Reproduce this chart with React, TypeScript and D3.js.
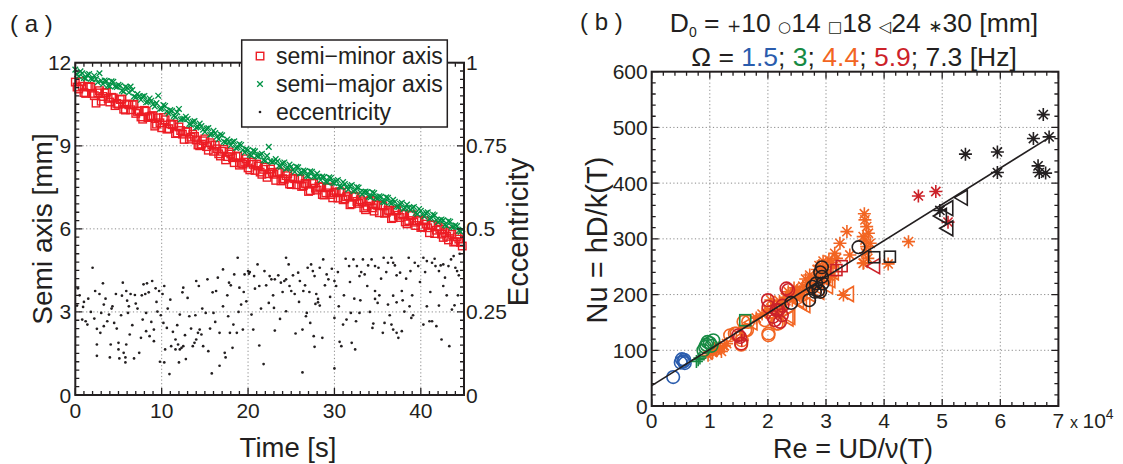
import React from "react";
import * as d3 from "d3";

const FONT = "'Liberation Sans', Arial, sans-serif";

// ---------------- Panel (a) data ----------------
const timeS = [0,0.4,0.8,1.2,1.6,2,2.4,2.8,3.2,3.6,4,4.4,4.8,5.2,5.6,6,6.4,6.8,7.2,7.6,8,8.4,8.8,9.2,9.6,10,10.4,10.8,11.2,11.6,12,12.4,12.8,13.2,13.6,14,14.4,14.8,15.2,15.6,16,16.4,16.8,17.2,17.6,18,18.4,18.8,19.2,19.6,20,20.4,20.8,21.2,21.6,22,22.4,22.8,23.2,23.6,24,24.4,24.8,25.2,25.6,26,26.4,26.8,27.2,27.6,28,28.4,28.8,29.2,29.6,30,30.4,30.8,31.2,31.6,32,32.4,32.8,33.2,33.6,34,34.4,34.8,35.2,35.6,36,36.4,36.8,37.2,37.6,38,38.4,38.8,39.2,39.6,40,40.4,40.8,41.2,41.6,42,42.4,42.8,43.2,43.6,44,44.4,44.8];

const semiMinorMm = [
  11.30,11.05,11.15,10.89,11.14,10.89,10.54,10.99,10.78,10.93,10.58,10.73,10.53,
  10.67,10.32,10.51,10.30,10.50,10.24,10.04,10.28,10.02,10.07,9.71,10.01,9.65,
  9.94,9.62,9.76,9.44,9.68,9.42,9.50,9.24,9.42,9.21,9.00,9.18,8.97,
  9.11,8.80,8.89,8.63,8.87,8.61,8.70,8.39,8.63,8.37,8.41,8.20,
  8.41,8.11,8.27,7.97,8.23,7.99,8.04,7.75,8.05,7.81,7.92,7.62,7.83,
  7.59,7.80,7.56,7.62,7.38,7.64,7.40,7.51,7.22,7.48,7.24,7.30,
  7.11,7.32,7.08,7.19,6.90,7.16,6.92,6.98,6.69,7.00,6.76,6.87,6.58,
  6.83,6.59,6.65,6.40,6.66,6.41,6.52,6.18,6.48,6.24,6.29,6.05,
  6.29,6.04,6.13,5.83,6.07,5.81,5.86,5.60,5.80,5.54,5.63,5.38
];

const semiMajorMm = [
  11.75,11.51,11.62,11.43,11.59,11.40,11.41,11.62,11.23,11.34,11.15,11.31,11.12,
  11.17,10.96,11.10,11.14,10.78,10.87,10.66,10.80,10.59,10.63,10.42,10.81,10.35,
  10.44,10.17,10.26,10.04,10.33,9.97,10.05,9.79,9.87,9.66,9.80,9.58,9.62,
  9.40,9.54,9.33,9.41,9.15,9.23,9.02,9.16,8.94,9.03,8.76,8.85,
  8.65,8.80,8.61,8.71,8.46,8.96,8.41,8.52,8.27,8.37,8.17,8.32,8.13,
  8.24,8.00,8.11,7.92,8.08,7.89,8.00,7.76,7.87,7.68,7.84,7.65,
  7.76,7.51,7.62,7.42,7.58,7.39,7.49,7.25,7.35,7.16,7.32,7.12,7.18,
  6.98,7.14,6.95,7.05,6.81,6.91,6.72,6.88,6.68,6.79,6.54,6.65,
  6.45,6.60,6.39,6.49,6.24,6.34,6.14,6.28,6.08,6.13,5.93,5.98
];

// interleaved samples (t = 0.2, 0.6, ... 44.6)
const timeMidS = [0.2,0.6,1,1.4,1.8,2.2,2.6,3,3.4,3.8,4.2,4.6,5,5.4,5.8,6.2,6.6,7,7.4,7.8,8.2,8.6,9,9.4,9.8,10.2,10.6,11,11.4,11.8,12.2,12.6,13,13.4,13.8,14.2,14.6,15,15.4,15.8,16.2,16.6,17,17.4,17.8,18.2,18.6,19,19.4,19.8,20.2,20.6,21,21.4,21.8,22.2,22.6,23,23.4,23.8,24.2,24.6,25,25.4,25.8,26.2,26.6,27,27.4,27.8,28.2,28.6,29,29.4,29.8,30.2,30.6,31,31.4,31.8,32.2,32.6,33,33.4,33.8,34.2,34.6,35,35.4,35.8,36.2,36.6,37,37.4,37.8,38.2,38.6,39,39.4,39.8,40.2,40.6,41,41.4,41.8,42.2,42.6,43,43.4,43.8,44.2,44.6];

const semiMinorMidMm = [
  11.12,11.32,10.92,11.12,11.12,10.81,10.91,10.61,10.91,10.71,10.75,10.45,
  10.50,10.69,10.29,10.48,10.48,10.17,10.26,9.96,10.25,10.05,10.09,9.78,9.83,
  10.02,9.60,9.79,9.78,9.46,9.55,9.23,9.52,9.31,9.34,9.03,9.06,9.25,
  8.84,9.03,9.02,8.71,8.80,8.49,8.78,8.57,8.61,8.30,8.34,8.53,
  8.13,8.33,8.34,8.05,8.15,7.86,8.16,7.97,8.03,7.73,7.79,7.99,7.60,
  7.81,7.82,7.53,7.64,7.35,7.66,7.47,7.53,7.24,7.30,7.51,7.12,
  7.33,7.34,7.05,7.16,6.87,7.18,6.99,7.05,6.76,6.82,7.03,6.64,6.85,
  6.86,6.56,6.67,6.37,6.68,6.49,6.54,6.25,6.30,6.51,6.12,6.32,
  6.07,6.17,5.86,6.15,5.95,5.99,5.69,5.73,5.92,5.52,5.71,5.51
];

const semiMajorMidMm = [
  11.58,11.69,11.45,11.56,11.42,11.53,11.29,11.35,11.36,11.17,11.33,11.14,
  11.20,10.99,11.13,10.92,11.01,10.75,10.79,10.78,10.57,10.71,10.50,10.54,10.33,
  10.47,10.25,10.29,10.08,10.21,9.95,9.98,9.97,9.76,9.89,9.68,9.71,9.50,
  9.64,9.42,9.46,9.24,9.38,9.12,9.15,9.14,8.92,9.06,8.85,8.88,
  8.68,8.83,8.63,8.68,8.48,8.64,8.44,8.44,8.44,8.24,8.40,8.20,8.25,
  8.06,8.22,8.03,8.09,7.90,8.06,7.87,7.88,7.89,7.70,7.86,7.67,
  7.73,7.53,7.69,7.50,7.55,7.36,7.51,7.32,7.33,7.33,7.14,7.29,7.10,
  7.16,6.96,7.12,6.92,6.98,6.79,6.94,6.75,6.75,6.76,6.57,6.72,
  6.52,6.57,6.37,6.52,6.32,6.31,6.31,6.11,6.26,6.06,6.10,5.90
];

// [time s, eccentricity]
const eccentricity: [number, number][] = [
  [2.0,0.383],[0.3,0.321],[3.2,0.336],[2.3,0.313],[2.8,0.304],[4.7,0.304],[5.4,0.299],[5.9,0.313],[5.5,0.338],[6.4,0.304],
  [6.9,0.301],[6.0,0.284],[7.9,0.333],[8.3,0.336],[8.1,0.304],[8.5,0.309],[8.9,0.343],[9.3,0.321],[9.7,0.313],[10.3,0.328],
  [10.1,0.304],[12.5,0.323],[12.4,0.309],[14.0,0.343],[14.3,0.328],[15.3,0.348],[15.9,0.309],[16.3,0.313],[17.1,0.378],[16.5,0.353],
  [17.8,0.338],[18.4,0.363],[18.8,0.413],[19.0,0.323],[19.6,0.363],[20.0,0.373],[20.2,0.370],[20.1,0.365],[20.7,0.358],[21.1,0.393],
  [21.3,0.328],[21.9,0.373],[22.5,0.358],[22.7,0.348],[23.1,0.348],[23.8,0.338],[24.2,0.343],[24.4,0.413],[24.7,0.393],[24.4,0.348],
  [24.8,0.328],[25.0,0.313],[25.4,0.304],[25.8,0.368],[26.0,0.343],[26.4,0.313],[26.9,0.383],[27.3,0.393],[27.5,0.373],[27.7,0.358],
  [27.9,0.304],[28.1,0.289],[28.3,0.383],[28.7,0.408],[29.1,0.363],[29.3,0.348],[30.0,0.343],[30.2,0.328],[31.3,0.410],[31.7,0.388],
  [32.2,0.408],[32.6,0.388],[32.9,0.358],[33.3,0.408],[33.5,0.363],[33.8,0.328],[34.3,0.408],[34.7,0.388],[35.1,0.383],[35.7,0.413],
  [36.2,0.398],[36.6,0.413],[36.8,0.398],[37.2,0.360],[37.6,0.368],[37.8,0.313],[38.6,0.413],[38.8,0.373],[39.3,0.398],[39.7,0.388],
  [40.3,0.413],[40.7,0.403],[41.3,0.398],[41.7,0.388],[42.1,0.373],[42.6,0.393],[42.8,0.353],[42.6,0.328],[43.2,0.388],[43.5,0.408],
  [43.8,0.418],[44.0,0.383],[44.2,0.373],[34.7,0.313],[36.8,0.299],[37.2,0.279],[37.9,0.285],[34.7,0.289],[35.2,0.300],[28.1,0.279],
  [28.3,0.269],[27.8,0.274],[42.1,0.269],
  [0.2,0.269],[0.9,0.265],[1.2,0.222],[1.4,0.212],[0.8,0.227],[2.5,0.199],[2.5,0.152],[2.5,0.118],[2.9,0.187],[3.0,0.247],
  [3.3,0.207],[3.3,0.272],[3.7,0.222],[3.9,0.242],[4.1,0.152],[4.0,0.113],[4.5,0.217],[4.3,0.267],[5.0,0.157],[5.0,0.137],
  [5.1,0.110],[5.6,0.127],[5.8,0.113],[5.8,0.098],[5.9,0.152],[6.1,0.247],[6.3,0.182],[6.2,0.267],[6.8,0.110],[7.4,0.127],
  [7.6,0.172],[8.2,0.192],[7.8,0.227],[8.2,0.247],[8.6,0.177],[9.1,0.162],[9.1,0.197],[9.5,0.251],[9.8,0.100],[10.2,0.217],
  [10.3,0.098],[10.4,0.137],[10.6,0.202],[10.9,0.063],[11.1,0.147],[11.6,0.137],[11.6,0.167],[11.9,0.152],[12.0,0.098],[12.1,0.242],
  [12.1,0.137],[12.3,0.142],[12.5,0.147],[12.8,0.108],[13.2,0.237],[13.6,0.147],[13.8,0.157],[14.0,0.167],[14.2,0.187],[14.4,0.197],
  [14.6,0.182],[14.8,0.147],[15.1,0.247],[15.4,0.132],[15.8,0.065],[16.0,0.247],[16.7,0.187],[16.7,0.088],[17.1,0.267],[17.3,0.127],
  [17.4,0.113],[17.7,0.237],[17.9,0.187],[18.3,0.212],[18.2,0.142],[18.7,0.187],[19.4,0.197],[19.2,0.272],[20.4,0.242],[20.6,0.197],
  [21.3,0.149],[21.8,0.093],[22.4,0.277],[23.1,0.194],[23.7,0.229],[24.4,0.252],[25.5,0.185],[26.3,0.197],[26.3,0.068],[26.8,0.247],
  [27.2,0.217],[27.6,0.177],[27.7,0.145],[28.6,0.172],[26.7,0.237],[30.0,0.080],[30.0,0.232],[30.6,0.160],[30.8,0.147],[31.0,0.212],
  [31.4,0.227],[32.0,0.157],[32.4,0.137],[32.9,0.247],[32.5,0.222],[34.4,0.202],[34.5,0.215],[35.6,0.187],[35.8,0.217],[36.6,0.212],
  [36.8,0.197],[37.2,0.187],[37.4,0.172],[37.8,0.192],[38.1,0.251],[38.9,0.232],[40.3,0.212],[41.0,0.222],[41.3,0.222],[41.8,0.207],
  [42.4,0.167],[43.3,0.147],[43.6,0.257],[35.0,0.277],[36.2,0.272],[40.7,0.267],[30.5,0.267],[31.9,0.247],[38.7,0.267],[23.0,0.262],
  [19.8,0.282],[11.0,0.287],[13.0,0.292],[1.5,0.290],[7.0,0.275],[44.5,0.425],[44.3,0.300],[39.0,0.300],[29.5,0.295],[33.0,0.285],
  [0.5,0.30],[1.0,0.28],[1.8,0.25],[2.2,0.23],[3.5,0.29],[4.2,0.26],[4.8,0.20],[5.3,0.24],[6.6,0.21],[7.2,0.26],
  [7.7,0.30],[8.8,0.22],[9.4,0.28],[9.9,0.24],[10.7,0.26],[11.3,0.19],[11.8,0.21],[12.7,0.18],[13.4,0.20],[13.9,0.24],
  [14.7,0.26],[15.6,0.20],[16.2,0.22],[17.6,0.30],[18.0,0.33],[18.9,0.25],[19.5,0.31],[20.8,0.32],[21.5,0.26],[22.1,0.33],
  [22.9,0.30],[23.5,0.36],[24.0,0.31],[25.2,0.36],[25.9,0.28],[26.6,0.33],[27.1,0.31],[28.9,0.33],[29.7,0.38],[30.4,0.37],
  [31.1,0.30],[31.8,0.34],[32.3,0.29],[33.1,0.37],[33.9,0.39],[34.1,0.25],[35.4,0.35],[36.0,0.37],[36.4,0.24],[37.0,0.39],
  [38.3,0.35],[39.1,0.24],[39.9,0.34],[40.5,0.37],[41.1,0.31],[41.6,0.41],[42.3,0.39],[43.0,0.30],[43.9,0.27],[44.4,0.36]
];

const timeTicks = [0, 10, 20, 30, 40];
const semiTicks = [0, 3, 6, 9, 12];
const eccTicks = [0, 0.25, 0.5, 0.75, 1];
const eccTickLabels = ["0", "0.25", "0.5", "0.75", "1"];

// ---------------- Panel (b) data ----------------
// [Re / 1e4, Nu]
type Pt = [number, number];
const blueCircles: Pt[] = [[0.37,52],[0.52,84],[0.55,80],[0.57,77],[0.50,78],[0.56,83]];

const greenPluses: Pt[] = [[0.77,80],[0.83,86],[0.80,83]];
const greenCircles: Pt[] = [[0.89,100],[0.92,106],[0.96,115],[1.00,113],[1.06,118],[0.94,110],[1.03,108]];
const greenSquares: Pt[] = [[1.61,154]];

const orangePluses: Pt[] = [[1.02,95],[1.10,100],[1.15,104]];
const orangeCircles: Pt[] = [[1.35,127],[1.43,130],[1.46,130],[1.55,118],[1.58,151],[1.61,136],[1.64,136],[1.66,151],[2.01,127],[2.01,130],[1.95,154],[2.15,148],[2.18,148],[2.04,169],[2.18,178],[1.54,110]];
const orangeTriangles: Pt[] = [[2.32,157],[2.61,181],[2.35,160],[3.36,201],[2.50,190],[2.80,215],[2.95,230],[3.04,226],[2.20,185],[1.70,150],[2.70,200],[2.85,205],[3.00,215],[3.10,240],[2.55,185]];
const orangeAsterisks: Pt[] = [[0.97,91],[1.05,96],[1.12,100],[1.18,104],[1.25,108],[1.29,112],[1.08,103],[1.20,98],
  [1.80,158],[1.90,165],[2.00,172],[2.10,180],[2.20,188],[2.30,195],[2.40,200],[2.50,207],[2.60,215],[2.70,222],[2.80,230],
  [2.90,238],[3.00,248],[3.10,258],[3.15,274],[3.24,292],[3.36,313],[3.41,271],[2.45,212],[2.55,200],[2.65,228],[2.75,210],
  [2.85,245],[2.95,225],[3.05,262],[2.25,175],[2.35,205],[2.05,190],
  [2.15,170],[2.28,182],[2.42,190],[2.58,198],[2.72,235],[2.88,252],[3.02,240],[3.08,232],[3.12,250],[2.62,208],[2.48,195],[2.95,260],[3.18,265],
  [3.67,334],[3.70,322],[3.73,310],[3.67,298],[3.76,292],[3.64,304],[3.70,286],[3.64,256],[3.68,275],[3.72,265],[3.66,345],
  [4.42,295],[4.07,255],[3.65,257],[3.30,199]];

const redPluses: Pt[] = [[1.55,118]];
const redCircles: Pt[] = [[1.52,124],[1.54,112],[1.49,127],[2.00,190],[2.01,178],[2.15,172],[2.09,160],[2.21,151],[2.24,163],[2.12,154],[2.35,208],[2.32,211],[2.18,172],[2.25,180]];
const redSquares: Pt[] = [[3.18,244],[3.27,251]];
const redTriangles: Pt[] = [[3.81,251]];
const redAsterisks: Pt[] = [[4.59,377],[4.89,385],[5.10,330]];

const blackCircles: Pt[] = [[2.40,185],[2.71,190],[2.81,205],[2.90,205],[2.83,220],[2.93,232],[2.93,249],[2.77,214],[3.56,285],[2.87,208],[2.94,220],[2.90,240]];
const blackSquares: Pt[] = [[3.83,267],[4.10,268]];
const blackTriangles: Pt[] = [[5.32,374],[5.07,355],[4.96,341],[5.07,319]];
const blackAsterisks: Pt[] = [[6.74,523],[6.57,480],[6.84,483],[5.40,452],[5.95,456],[5.95,419],[6.65,431],[6.67,419],[6.78,418],[4.96,351]];

const fitIntercept = 36.5;
const fitSlope = 65.1;
const fitReRange = [0, 6.84];

const reTicks = [0, 1, 2, 3, 4, 5, 6, 7];
const nuTicks = [0, 100, 200, 300, 400, 500, 600];

const C_BLUE = "#2a5cad";
const C_GREEN = "#168a43";
const C_ORANGE = "#f26522";
const C_RED = "#cc2229";
const C_BLACK = "#231f20";

const seriesB = [
  { marker: "asterisk", color: C_ORANGE, pts: orangeAsterisks },
  { marker: "triangle", color: C_ORANGE, pts: orangeTriangles },
  { marker: "circle", color: C_ORANGE, pts: orangeCircles },
  { marker: "plus", color: C_ORANGE, pts: orangePluses },
  { marker: "circle", color: C_BLUE, pts: blueCircles },
  { marker: "plus", color: C_GREEN, pts: greenPluses },
  { marker: "circle", color: C_GREEN, pts: greenCircles },
  { marker: "square", color: C_GREEN, pts: greenSquares },
  { marker: "circle", color: C_RED, pts: redCircles },
  { marker: "plus", color: C_RED, pts: redPluses },
  { marker: "square", color: C_RED, pts: redSquares },
  { marker: "triangle", color: C_RED, pts: redTriangles },
  { marker: "asterisk", color: C_RED, pts: redAsterisks },
  { marker: "circle", color: C_BLACK, pts: blackCircles },
  { marker: "square", color: C_BLACK, pts: blackSquares },
  { marker: "triangle", color: C_BLACK, pts: blackTriangles },
  { marker: "asterisk", color: C_BLACK, pts: blackAsterisks },
];

function Marker({ kind, x, y, color }: { kind: string; x: number; y: number; color: string }) {
  const sw = 1.6;
  if (kind === "circle") return <circle cx={x} cy={y} r={6.3} fill="none" stroke={color} strokeWidth={sw} />;
  if (kind === "square") return <rect x={x - 5.5} y={y - 5.5} width={11} height={11} fill="none" stroke={color} strokeWidth={sw} />;
  if (kind === "triangle")
    return <polygon points={`${x - 6.5},${y} ${x + 6.5},${y - 7.5} ${x + 6.5},${y + 7.5}`} fill="none" stroke={color} strokeWidth={sw} />;
  if (kind === "plus")
    return <path d={`M${x - 6.5},${y}H${x + 6.5}M${x},${y - 6.5}V${y + 6.5}`} stroke={color} strokeWidth={sw} fill="none" />;
  const s = 6.5, d = 4.6;
  return (
    <path
      d={`M${x - s},${y}H${x + s}M${x},${y - s}V${y + s}M${x - d},${y - d}L${x + d},${y + d}M${x - d},${y + d}L${x + d},${y - d}`}
      stroke={color}
      strokeWidth={sw}
      fill="none"
    />
  );
}

export default function App() {
  const xA = d3.scaleLinear().domain([0, 45]).range([75.3, 464]);
  const yA = d3.scaleLinear().domain([0, 12]).range([395, 62.7]);
  const yE = d3.scaleLinear().domain([0, 1]).range([395, 62.7]);
  const xB = d3.scaleLinear().domain([0, 7]).range([651.7, 1058.4]);
  const yB = d3.scaleLinear().domain([0, 600]).range([406, 71.7]);

  const aL = xA.range()[0], aR = xA.range()[1], aT = yA.range()[1], aB = yA.range()[0];
  const bL = xB.range()[0], bR = xB.range()[1], bT = yB.range()[1], bB = yB.range()[0];

  const majLen = 7, minLen = 4;
  const gridStyle = { stroke: "#8a8a8a", strokeWidth: 1, strokeDasharray: "1.2,2.4" } as const;

  const aMinorX = d3.range(0, 45.001, 1);
  const aMinorY = d3.range(0, 12.001, 0.3);
  const bMinorX = d3.range(0, 7.001, 0.2);
  const bMinorY = d3.range(0, 600.1, 20);

  let aTicks = "";
  aMinorX.forEach((t) => {
    const x = xA(t);
    const len = Math.abs(t % 10) < 1e-6 ? majLen : minLen;
    aTicks += `M${x},${aB}V${aB - len}M${x},${aT}V${aT + len}`;
  });
  aMinorY.forEach((v) => {
    const y = yA(v);
    const len = Math.abs(v / 3 - Math.round(v / 3)) < 1e-6 ? majLen : minLen;
    aTicks += `M${aL},${y}H${aL + len}M${aR},${y}H${aR - len}`;
  });
  let bTicks = "";
  bMinorX.forEach((t) => {
    const x = xB(t);
    const len = Math.abs(t - Math.round(t)) < 1e-6 ? majLen : minLen;
    bTicks += `M${x},${bB}V${bB - len}M${x},${bT}V${bT + len}`;
  });
  bMinorY.forEach((v) => {
    const y = yB(v);
    const len = Math.abs(v % 100) < 1e-6 ? majLen : minLen;
    bTicks += `M${bL},${y}H${bL + len}M${bR},${y}H${bR - len}`;
  });

  const tickFont = 21;
  const ink = "#231f20";
  const sq = 7.5;

  const minorPts: [number, number][] = [
    ...timeS.map((t, i) => [t, semiMinorMm[i]] as [number, number]),
    ...timeMidS.map((t, i) => [t, semiMinorMidMm[i]] as [number, number]),
  ];
  const majorPts: [number, number][] = [
    ...timeS.map((t, i) => [t, semiMajorMm[i]] as [number, number]),
    ...timeMidS.map((t, i) => [t, semiMajorMidMm[i]] as [number, number]),
  ];

  return (
    <svg
      width={1123}
      height={464}
      viewBox="0 0 1123 464"
      style={{ position: "absolute", left: 0, top: 0, background: "#fff" }}
      fontFamily={FONT}
    >
      <rect x={0} y={0} width={1123} height={464} fill="#fff" />

      {/* ================= Panel (a) ================= */}
      <text x={10} y={32} fontSize={24} fill={ink}>( a )</text>

      {timeTicks.filter((t) => t > 0).map((t) => (
        <line key={"ga" + t} x1={xA(t)} x2={xA(t)} y1={aT} y2={aB} {...gridStyle} />
      ))}
      {semiTicks.filter((v) => v > 0 && v < 12).map((v) => (
        <line key={"gay" + v} x1={aL} x2={aR} y1={yA(v)} y2={yA(v)} {...gridStyle} />
      ))}

      <g fill="none" stroke="#ed1c24" strokeWidth={1.4}>
        {minorPts.map(([t, v], i) => (
          <rect key={"sm" + i} x={xA(t) - sq / 2} y={yA(v) - sq / 2} width={sq} height={sq} />
        ))}
      </g>
      <g stroke="#009245" strokeWidth={1.3}>
        {majorPts.map(([t, v], i) => {
          const x = xA(t), y = yA(v), s = 2.8;
          return <path key={"sM" + i} d={`M${x - s},${y - s}L${x + s},${y + s}M${x - s},${y + s}L${x + s},${y - s}`} />;
        })}
      </g>
      <g fill={ink}>
        {eccentricity.map(([t, e], i) => (
          <circle key={"e" + i} cx={xA(t)} cy={yE(e)} r={1.35} />
        ))}
      </g>

      <path d={aTicks} stroke={ink} strokeWidth={1.3} fill="none" />
      <rect x={aL} y={aT} width={aR - aL} height={aB - aT} fill="none" stroke={ink} strokeWidth={2} />

      {semiTicks.map((v) => (
        <text key={"ly" + v} x={aL - 4} y={yA(v)} dy="0.36em" textAnchor="end" fontSize={tickFont} fill={ink}>{v}</text>
      ))}
      {eccTicks.map((v, i) => (
        <text key={"ry" + v} x={aR + 2} y={yE(v)} dy="0.36em" textAnchor="start" fontSize={tickFont} fill={ink}>{eccTickLabels[i]}</text>
      ))}
      {timeTicks.map((t) => (
        <text key={"lx" + t} x={xA(t)} y={418} textAnchor="middle" fontSize={tickFont} fill={ink}>{t}</text>
      ))}

      <text x={288} y={457} textAnchor="middle" fontSize={27.5} fill={ink}>Time [s]</text>
      <text transform="translate(42,229) rotate(-90)" textAnchor="middle" dy="0.35em" fontSize={28} fill={ink}>Semi axis [mm]</text>
      <text transform="translate(518,232) rotate(-90)" textAnchor="middle" dy="0.35em" fontSize={29} fill={ink}>Eccentricity</text>

      <g>
        <rect x={241.7} y={40} width={205.6} height={87} fill="#fff" stroke={ink} strokeWidth={1.5} />
        <rect x={256.3} y={52.3} width={sq} height={sq} fill="none" stroke="#ed1c24" strokeWidth={1.4} />
        <path d="M257.2,81.2L262.8,86.8M257.2,86.8L262.8,81.2" stroke="#009245" strokeWidth={1.3} />
        <circle cx={260} cy={112} r={1.35} fill={ink} />
        <text x={276} y={56} dy="0.35em" fontSize={23} fill={ink}>semi−minor axis</text>
        <text x={276} y={84} dy="0.35em" fontSize={23} fill={ink}>semi−major axis</text>
        <text x={276} y={112} dy="0.35em" fontSize={23} fill={ink}>eccentricity</text>
      </g>

      {/* ================= Panel (b) ================= */}
      <text x={580} y={30} fontSize={24} fill={ink}>( b )</text>
      <text x={854} y={32} textAnchor="middle" fontSize={26.5} fill={ink}>
        D<tspan dy={5} fontSize={14}>0</tspan>
        <tspan dy={-5}> = </tspan>
        <tspan fontSize={17} fontFamily="DejaVu Sans">+</tspan>10{" "}
        <tspan fontSize={15} fontFamily="DejaVu Sans">○</tspan>14{" "}
        <tspan fontSize={15} fontFamily="DejaVu Sans">□</tspan>18{" "}
        <tspan fontSize={16} fontFamily="DejaVu Sans">◁</tspan>24{" "}
        <tspan fontSize={17} fontFamily="DejaVu Sans">∗</tspan>30 [mm]
      </text>
      <text x={854} y={66} textAnchor="middle" fontSize={26.5} fill={ink}>
        Ω = <tspan fill={C_BLUE}>1.5</tspan>; <tspan fill={C_GREEN}>3</tspan>; <tspan fill={C_ORANGE}>4.4</tspan>;{" "}
        <tspan fill={C_RED}>5.9</tspan>; 7.3 [Hz]
      </text>

      {reTicks.filter((t) => t > 0 && t < 7).map((t) => (
        <line key={"gb" + t} x1={xB(t)} x2={xB(t)} y1={bT} y2={bB} {...gridStyle} />
      ))}
      {nuTicks.filter((v) => v > 0 && v < 600).map((v) => (
        <line key={"gby" + v} x1={bL} x2={bR} y1={yB(v)} y2={yB(v)} {...gridStyle} />
      ))}

      {seriesB.map((s, si) =>
        s.pts.map(([re, nu], i) => <Marker key={si + "-" + i} kind={s.marker} x={xB(re)} y={yB(nu)} color={s.color} />)
      )}

      <line
        x1={xB(fitReRange[0])}
        y1={yB(fitIntercept + fitSlope * fitReRange[0])}
        x2={xB(fitReRange[1])}
        y2={yB(fitIntercept + fitSlope * fitReRange[1])}
        stroke={ink}
        strokeWidth={1.6}
      />

      <path d={bTicks} stroke={ink} strokeWidth={1.3} fill="none" />
      <rect x={bL} y={bT} width={bR - bL} height={bB - bT} fill="none" stroke={ink} strokeWidth={2} />

      {nuTicks.map((v) => (
        <text key={"by" + v} x={bL - 4} y={yB(v)} dy="0.36em" textAnchor="end" fontSize={tickFont} fill={ink}>{v}</text>
      ))}
      {reTicks.map((t) => (
        <text key={"bx" + t} x={xB(t)} y={428} textAnchor="middle" fontSize={tickFont} fill={ink}>{t}</text>
      ))}
      <text x={1070} y={428} fontSize={tickFont} fill={ink}>
        <tspan fontSize={16}>x </tspan>10<tspan dy={-9} fontSize={14}>4</tspan>
      </text>

      <text x={853} y={458} textAnchor="middle" fontSize={27} fill={ink}>Re = UD/ν(T)</text>
      <text transform="translate(597,240) rotate(-90)" textAnchor="middle" dy="0.35em" fontSize={29} fill={ink}>Nu = hD/k(T)</text>
    </svg>
  );
}
